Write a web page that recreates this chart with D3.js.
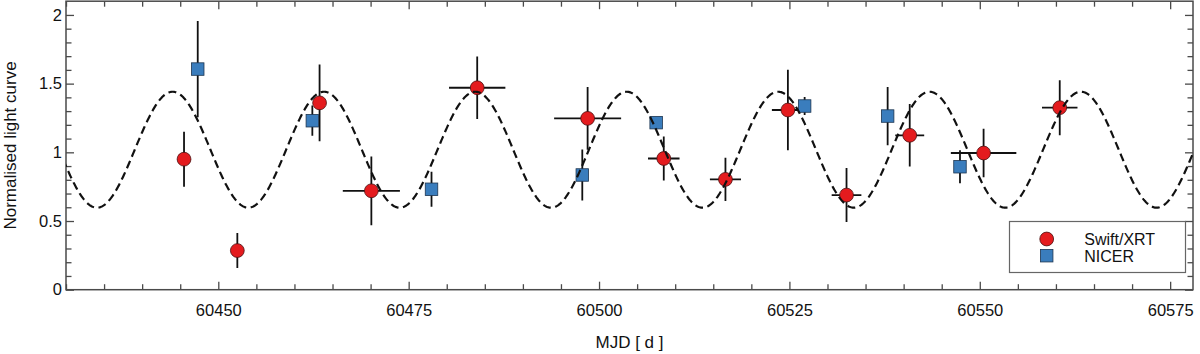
<!DOCTYPE html>
<html>
<head>
<meta charset="utf-8">
<script src="https://cdn.jsdelivr.net/npm/d3@7"></script>
<style>
  html, body { margin: 0; padding: 0; background: #fff; }
  svg { display: block; font-family: "Liberation Sans", Arial, Helvetica, sans-serif; }
</style>
</head>
<body>
<svg id="chart" width="1200" height="354"></svg>
<script>
// ---------------- data ----------------
const xrtMJD   = [60445.5, 60452.5, 60463.3, 60470.1, 60484.0, 60498.5, 60508.5, 60516.6, 60524.8, 60532.5, 60540.8, 60550.5, 60560.5];
const xrtValue = [0.95, 0.285, 1.36, 0.72, 1.47, 1.247, 0.955, 0.803, 1.308, 0.689, 1.124, 0.995, 1.325];
const xrtYErr  = [0.20, 0.127, 0.28, 0.25, 0.227, 0.228, 0.16, 0.158, 0.293, 0.197, 0.227, 0.177, 0.20];
const xrtXErr  = [0.4, 0.4, 0.4, 3.75, 3.7, 4.4, 2.07, 2.04, 2.1, 1.95, 1.9, 4.3, 2.33];

const nicerMJD   = [60447.3, 60462.35, 60478.0, 60497.8, 60507.5, 60527.0, 60537.9, 60547.4];
const nicerValue = [1.606, 1.23, 0.731, 0.835, 1.216, 1.337, 1.264, 0.895];
const nicerYErr  = [0.35, 0.11, 0.128, 0.185, 0.03, 0.065, 0.212, 0.12];
const nicerXErr  = [0, 0, 0, 0, 0, 0, 0, 0];

// sinusoidal model (fit parameters)
const modelPeriod = 19.88;
const modelPeakMJD = 60444.0;
const modelMean = 1.019;
const modelAmp = 0.422;

const xMajorTicks = [60450, 60475, 60500, 60525, 60550, 60575];
const yMajorTicks = [0, 0.5, 1, 1.5, 2];
const xDomain = [60430, 60578];
const yDomain = [0, 2.1];

const legendLabels = ["Swift/XRT", "NICER"];

// ---------------- layout ----------------
const pL = 66, pR = 1193, pT = 1.2, pB = 289.7;
const svg = d3.select("#chart");
const x = d3.scaleLinear().domain(xDomain).range([pL, pR]);
const y = d3.scaleLinear().domain(yDomain).range([pB, pT]);

const axisColor = "#4a4a4a";
const red = "#e41b1e", blue = "#3a7dbd";

svg.append("defs").append("clipPath").attr("id", "clip")
  .append("rect").attr("x", pL).attr("y", pT).attr("width", pR - pL).attr("height", pB - pT);

// minor tick values
const xMinor = d3.range(60430, 60578.01, 5).filter(v => !xMajorTicks.includes(v));
const yMinor = d3.range(0, 21).map(i => i / 10).filter(v => !yMajorTicks.some(t => Math.abs(t - v) < 1e-9));

function styleAxis(g) {
  g.select(".domain").remove();
  g.selectAll(".tick line").attr("stroke", axisColor).attr("stroke-width", 1.3);
  g.selectAll(".tick text").attr("fill", "#111").attr("font-size", "16.5px")
    .attr("font-family", '"Liberation Sans", Arial, Helvetica, sans-serif');
}

// bottom
svg.append("g").attr("transform", `translate(0,${pB})`)
  .call(d3.axisBottom(x).tickValues(xMajorTicks).tickSize(-8).tickPadding(14.5).tickFormat(d3.format("d")))
  .call(styleAxis);
svg.append("g").attr("transform", `translate(0,${pB})`)
  .call(d3.axisBottom(x).tickValues(xMinor).tickSize(-5.5).tickFormat(""))
  .call(styleAxis);
// top
svg.append("g").attr("transform", `translate(0,${pT})`)
  .call(d3.axisTop(x).tickValues(xMajorTicks).tickSize(-8).tickFormat(""))
  .call(styleAxis);
svg.append("g").attr("transform", `translate(0,${pT})`)
  .call(d3.axisTop(x).tickValues(xMinor).tickSize(-5.5).tickFormat(""))
  .call(styleAxis);
// left
svg.append("g").attr("transform", `translate(${pL},0)`)
  .call(d3.axisLeft(y).tickValues(yMajorTicks).tickSize(-8).tickPadding(4).tickFormat(d => String(d)))
  .call(styleAxis);
svg.append("g").attr("transform", `translate(${pL},0)`)
  .call(d3.axisLeft(y).tickValues(yMinor).tickSize(-5.5).tickFormat(""))
  .call(styleAxis);
// right
svg.append("g").attr("transform", `translate(${pR},0)`)
  .call(d3.axisRight(y).tickValues(yMajorTicks).tickSize(-8).tickFormat(""))
  .call(styleAxis);
svg.append("g").attr("transform", `translate(${pR},0)`)
  .call(d3.axisRight(y).tickValues(yMinor).tickSize(-5.5).tickFormat(""))
  .call(styleAxis);

// frame
svg.append("rect").attr("x", pL).attr("y", pT).attr("width", pR - pL).attr("height", pB - pT)
  .attr("fill", "none").attr("stroke", axisColor).attr("stroke-width", 1.5);

// axis titles
svg.append("text").attr("x", (pL + pR) / 2).attr("y", 348)
  .attr("text-anchor", "middle").attr("font-size", "17px").attr("fill", "#111").text("MJD [ d ]");
svg.append("text").attr("transform", `translate(16,${(pT + pB) / 2}) rotate(-90)`)
  .attr("text-anchor", "middle").attr("font-size", "17px").attr("fill", "#111").text("Normalised light curve");

const plot = svg.append("g").attr("clip-path", "url(#clip)");

const xrt = xrtMJD.map((m, i) => ({ m, v: xrtValue[i], ey: xrtYErr[i], ex: xrtXErr[i] }));
const nicer = nicerMJD.map((m, i) => ({ m, v: nicerValue[i], ey: nicerYErr[i], ex: nicerXErr[i] }));

function errorBars(data) {
  const g = plot.append("g").attr("stroke", "#111").attr("stroke-width", 1.8);
  g.selectAll(".ey").data(data).join("line")
    .attr("x1", d => x(d.m)).attr("x2", d => x(d.m))
    .attr("y1", d => y(d.v - d.ey)).attr("y2", d => y(d.v + d.ey));
  g.selectAll(".ex").data(data.filter(d => d.ex > 0)).join("line")
    .attr("x1", d => x(d.m - d.ex)).attr("x2", d => x(d.m + d.ex))
    .attr("y1", d => y(d.v)).attr("y2", d => y(d.v));
}
errorBars(nicer);
errorBars(xrt);

const sq = 12.5, rad = 6.9;
plot.append("g").selectAll("rect").data(nicer).join("rect")
  .attr("x", d => x(d.m) - sq / 2).attr("y", d => y(d.v) - sq / 2)
  .attr("width", sq).attr("height", sq)
  .attr("fill", blue).attr("stroke", "#1d3550").attr("stroke-width", 0.8);
plot.append("g").selectAll("circle").data(xrt).join("circle")
  .attr("cx", d => x(d.m)).attr("cy", d => y(d.v)).attr("r", rad)
  .attr("fill", red).attr("stroke", "#4a1010").attr("stroke-width", 0.8);

// model curve
const modelX = d3.range(xDomain[0] - 1, xDomain[1] + 1, 0.1);
const line = d3.line()
  .x(d => x(d))
  .y(d => y(modelMean + modelAmp * Math.cos(2 * Math.PI * (d - modelPeakMJD) / modelPeriod)));
plot.append("path").datum(modelX).attr("d", line)
  .attr("fill", "none").attr("stroke", "#111").attr("stroke-width", 2.2)
  .attr("stroke-dasharray", "8,4.5");

// legend
const lg = svg.append("g");
lg.append("rect").attr("x", 1009.5).attr("y", 221.5).attr("width", 176).attr("height", 51)
  .attr("fill", "#fff").attr("stroke", "#666").attr("stroke-width", 1.2);
lg.append("circle").attr("cx", 1046.7).attr("cy", 239).attr("r", rad)
  .attr("fill", red).attr("stroke", "#4a1010").attr("stroke-width", 0.8);
lg.append("rect").attr("x", 1046.7 - sq / 2).attr("y", 255.7 - sq / 2).attr("width", sq).attr("height", sq)
  .attr("fill", blue).attr("stroke", "#1d3550").attr("stroke-width", 0.8);
lg.selectAll("text.lab").data(legendLabels).join("text")
  .attr("x", 1084.3).attr("y", (d, i) => 239 + i * 16.8)
  .attr("dy", "0.36em").attr("font-size", "16px").attr("fill", "#111").text(d => d);
</script>
</body>
</html>
